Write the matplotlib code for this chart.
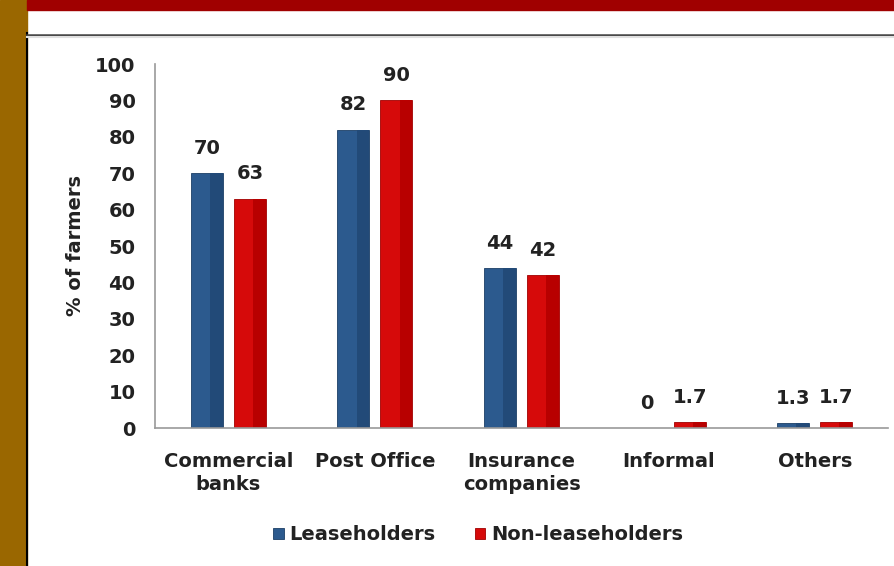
import matplotlib
matplotlib.use("Agg")
import matplotlib.pyplot as plt
from matplotlib.patches import Rectangle
from matplotlib.lines import Line2D
import numpy as np

categories = ["Commercial\nbanks", "Post Office", "Insurance\ncompanies", "Informal", "Others"]
leaseholders = [70, 82, 44, 0, 1.3]
non_leaseholders = [63, 90, 42, 1.7, 1.7]
lease_labels = ["70", "82", "44", "0", "1.3"]
non_labels = ["63", "90", "42", "1.7", "1.7"]
yticks = [0, 10, 20, 30, 40, 50, 60, 70, 80, 90, 100]

plt.rcParams['font.family'] = ['DejaVu Sans']
plt.rcParams['font.weight'] = 'bold'
FS = 14
TC = '#222222'

fig = plt.figure(figsize=(8.95, 5.66), dpi=100)
fig.patch.set_facecolor('white')

# slide decorations
fig.add_artist(Rectangle((0, 0), 27/895, 1, transform=fig.transFigure, color='#9A6700', zorder=0))
fig.add_artist(Rectangle((27/895, 1-10/566), 1, 10/566, transform=fig.transFigure, color='#A00000', zorder=0))
fig.add_artist(Line2D([27/895, 27/895], [0, 1-33/566], transform=fig.transFigure, color='black', lw=1.5))
fig.add_artist(Line2D([27/895, 1], [1-34.5/566, 1-34.5/566], transform=fig.transFigure, color='#444444', lw=1.8))
fig.add_artist(Line2D([27/895, 1], [1-36.5/566, 1-36.5/566], transform=fig.transFigure, color='#e0e0e0', lw=1.5))

ax = fig.add_axes([155/895, 1-428/566, (888-155)/895, (428-64)/566])
x = np.arange(len(categories))
w = 0.218
off = 0.147
blue = '#2C5A8E'
blue_d = '#224A78'
red = '#D60A0A'
red_d = '#B80000'
ax.bar(x - off, leaseholders, w, color=blue, edgecolor='#1C3F66', linewidth=0.6, label='Leaseholders')
ax.bar(x + off, non_leaseholders, w, color=red, edgecolor='#A00000', linewidth=0.6, label='Non-leaseholders')
# darker right shading strip (bevel look)
ax.bar(x - off + w*0.3, leaseholders, w*0.4, color=blue_d, linewidth=0)
ax.bar(x + off + w*0.3, non_leaseholders, w*0.4, color=red_d, linewidth=0)

for xi, v, t in zip(x, leaseholders, lease_labels):
    ax.annotate(t, (xi - off, v), xytext=(0, 11), textcoords='offset points', ha='center', va='bottom',
                fontsize=FS, fontweight='bold', color=TC)
for xi, v, t in zip(x, non_leaseholders, non_labels):
    ax.annotate(t, (xi + off, v), xytext=(0, 11), textcoords='offset points', ha='center', va='bottom',
                fontsize=FS, fontweight='bold', color=TC)

ax.set_xlim(-0.5, len(categories) - 0.5)
ax.set_ylim(0, 100)
ax.set_yticks(yticks)
ax.set_yticklabels([str(t) for t in yticks], fontsize=FS, fontweight='bold', color=TC)
ax.set_xticks(x)
ax.set_xticklabels(categories, fontsize=FS, fontweight='bold', color=TC, linespacing=1.3)
ax.tick_params(axis='y', length=0, pad=14)
ax.tick_params(axis='x', length=0, pad=17)
for s in ['top', 'right']:
    ax.spines[s].set_visible(False)
ax.spines['left'].set_color('#999999')
ax.spines['bottom'].set_color('#999999')
ax.spines['left'].set_linewidth(1.2)
ax.spines['bottom'].set_linewidth(1.2)
ax.set_ylabel('% of farmers', fontsize=FS, fontweight='bold', color=TC, labelpad=7)

leg = ax.legend(loc='center', bbox_to_anchor=(478/895, 1-535/566), bbox_transform=fig.transFigure,
                ncol=2, frameon=False, fontsize=FS, handlelength=0.55, handleheight=0.55,
                handletextpad=0.3, columnspacing=2.0)
for t in leg.get_texts():
    t.set_fontweight('bold')
    t.set_color(TC)

fig.savefig('out.png', dpi=100, facecolor='white')
